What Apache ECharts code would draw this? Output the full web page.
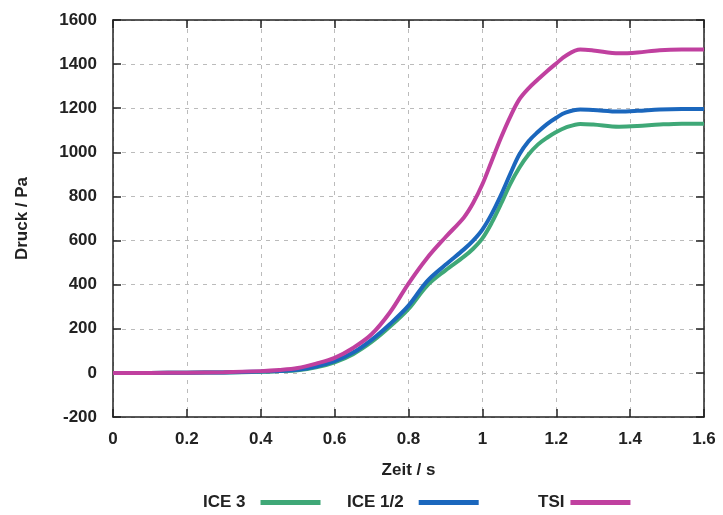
<!DOCTYPE html>
<html>
<head>
<meta charset="utf-8">
<script src="https://cdn.jsdelivr.net/npm/echarts@6/dist/echarts.min.js"></script>
<style>html,body{margin:0;padding:0;background:#fff}#c{width:723px;height:515px}</style>
</head>
<body>
<div id="c"></div>
<script>
const time  = [0, 0.1, 0.2, 0.3, 0.4, 0.45, 0.5, 0.55, 0.6, 0.65, 0.7, 0.75, 0.8, 0.85, 0.9, 0.95, 0.975, 1.0, 1.025, 1.05, 1.075, 1.1, 1.125, 1.15, 1.175, 1.2, 1.225, 1.265, 1.3, 1.37, 1.42, 1.48, 1.54, 1.6];
const ice3  = [0, 0, 1, 2, 5, 8, 12, 25, 48, 85, 140, 210, 290, 395, 465, 527, 563, 610, 680, 765, 855, 930, 990, 1035, 1066, 1092, 1112, 1129, 1126, 1116, 1119, 1126, 1130, 1130];
const ice12 = [0, 0, 1, 2, 6, 9, 14, 29, 53, 92, 150, 222, 305, 415, 490, 560, 600, 650, 720, 805, 900, 990, 1050, 1092, 1128, 1157, 1180, 1194, 1192, 1185, 1188, 1194, 1196, 1196];
const tsi   = [0, 0, 1, 3, 8, 13, 22, 42, 68, 113, 175, 275, 405, 520, 615, 705, 770, 855, 960, 1065, 1160, 1240, 1290, 1330, 1368, 1403, 1437, 1466, 1462, 1449, 1453, 1463, 1466, 1466];
const seriesNames = ['ICE 3', 'ICE 1/2', 'TSI'];
const colors = ['#3fa877', '#1b67bd', '#c0409f'];

const pair = arr => time.map((t, i) => [t, arr[i]]);
const font = 'Liberation Sans, Arial, Helvetica, sans-serif';
const chart = echarts.init(document.getElementById('c'));
const axisLine = {show: true, onZero: false, lineStyle: {color: '#222', width: 1.5}};
const tick = {show: true, inside: true, length: 8, lineStyle: {color: '#222', width: 1.5}};
const split = {show: true, lineStyle: {type: [4, 5], color: '#bbbbbb', width: 1}};
const lbl = {color: '#222', fontFamily: font, fontWeight: 'bold', fontSize: 17};
const xFmt = v => String(Number(v.toFixed(1)));
const yFmt = v => String(Math.round(v));

function legendAt(name, left, pad) {
  return {
    data: [name], left: left, top: 489, align: 'right', icon: 'rect',
    itemWidth: 60, itemHeight: 5, itemGap: 0,
    textStyle: {color: '#222', fontFamily: font, fontWeight: 'bold', fontSize: 17, padding: [0, pad, 0, 0]}
  };
}

chart.setOption({
  animation: false,
  backgroundColor: '#fff',
  grid: {left: 113, right: 19, top: 20, bottom: 98},
  legend: [legendAt('ICE 3', 198, 10), legendAt('ICE 1/2', 342, 10), legendAt('TSI', 533, 1)],
  xAxis: [{
    type: 'value', min: 0, max: 1.6, interval: 0.2,
    name: 'Zeit / s', nameLocation: 'middle', nameGap: 45,
    nameTextStyle: lbl,
    axisLine: axisLine, axisTick: tick, splitLine: split,
    axisLabel: Object.assign({margin: 14, formatter: xFmt}, lbl)
  }, {
    type: 'value', min: 0, max: 1.6, interval: 0.2, position: 'top',
    axisLine: axisLine, axisTick: tick, splitLine: {show: false}, axisLabel: {show: false}
  }],
  yAxis: [{
    type: 'value', min: -200, max: 1600, interval: 200,
    name: 'Druck / Pa', nameLocation: 'middle', nameGap: 82,
    nameTextStyle: lbl,
    axisLine: axisLine, axisTick: tick, splitLine: split,
    axisLabel: Object.assign({margin: 16, formatter: yFmt}, lbl)
  }, {
    type: 'value', min: -200, max: 1600, interval: 200, position: 'right',
    axisLine: axisLine, axisTick: tick, splitLine: {show: false}, axisLabel: {show: false}
  }],
  series: [ice3, ice12, tsi].map((arr, i) => ({
    name: seriesNames[i], type: 'line', data: pair(arr), smooth: 0.35,
    showSymbol: false, symbol: 'none', color: colors[i],
    lineStyle: {color: colors[i], width: 4}
  }))
});
</script>
</body>
</html>
